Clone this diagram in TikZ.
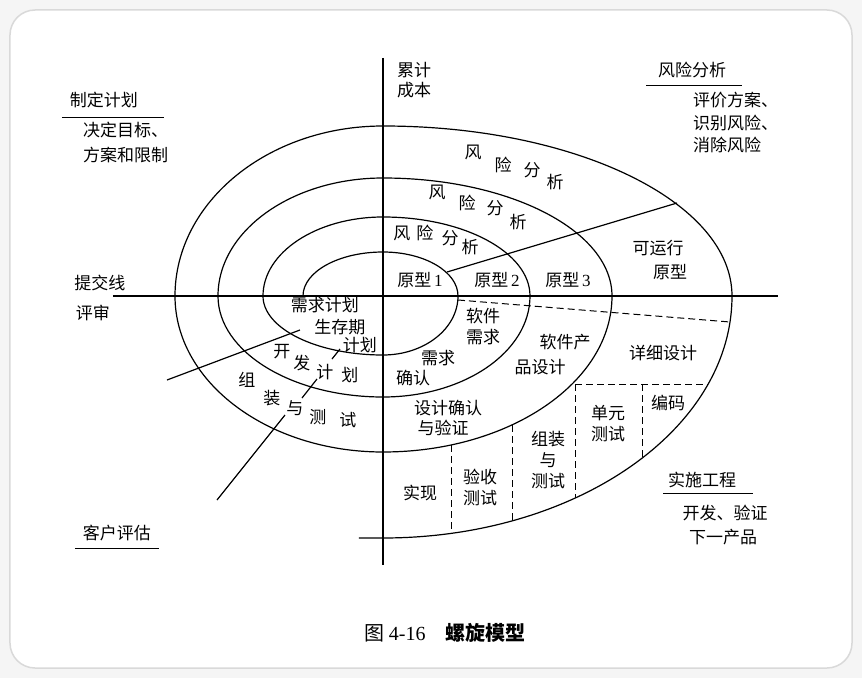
\documentclass[tikz,border=0pt]{standalone}
\usepackage{fontspec}
\setmainfont{Noto Sans CJK SC}
\newfontfamily\numfont{Liberation Serif}
\tikzset{
  lbl/.style={font=\fontsize{17}{21}\selectfont, inner sep=0pt, align=center},
  spiral/.style={line width=1.2pt},
  seg/.style={line width=1pt, dash pattern=on 7pt off 4pt}
}
\begin{document}
\begin{tikzpicture}[x=1pt,y=1pt]
    \useasboundingbox (-383,-382) rectangle (479,296);
    \fill[gray!8] (-383,-382) rectangle (479,296);
    \filldraw[fill=white,draw=gray!30,line width=1.5pt,rounded corners=25pt] (-373,-372) rectangle (469,286);
    \draw[spiral] (0,238) -- (0,-269);
    \draw[spiral] (-270,0) -- (395,0);
    \draw[spiral] (-80,0) arc[start angle=180,end angle=90,x radius=80,y radius=44]
        arc[start angle=90,end angle=0,x radius=75,y radius=44]
        arc[start angle=0,end angle=-90,x radius=75,y radius=59]
        arc[start angle=270,end angle=180,x radius=120,y radius=59]
        arc[start angle=180,end angle=90,x radius=120,y radius=79]
        arc[start angle=90,end angle=0,x radius=147,y radius=79]
        arc[start angle=0,end angle=-90,x radius=147,y radius=101]
        arc[start angle=270,end angle=180,x radius=165,y radius=101]
        arc[start angle=180,end angle=90,x radius=165,y radius=118]
        arc[start angle=90,end angle=0,x radius=229,y radius=118]
        arc[start angle=0,end angle=-90,x radius=229,y radius=156]
        arc[start angle=270,end angle=180,x radius=208,y radius=156]
        arc[start angle=180,end angle=90,x radius=208,y radius=170]
        arc[start angle=90,end angle=0,x radius=349,y radius=170]
        arc[start angle=0,end angle=-90,x radius=349,y radius=242]
        -- (-24,-242);
    \draw[spiral] (64,24) -- (294,93);
    \draw[seg] (75,-4) -- (347,-26);
    \draw[spiral] (-216,-84) -- (-83,-34);
    \draw[spiral] (-51,-63) -- (-43,-53);
    \draw[spiral] (-166,-204) -- (-98,-119);
    \draw[spiral] (-81,-102) -- (-66,-83);
    \draw[seg] (68,-149) -- (68,-237);
    \draw[seg] (129,-129) -- (129,-225);
    \draw[seg] (192,-88) -- (192,-202);
    \draw[seg] (259,-88) -- (259,-162);
    \draw[seg] (192,-88) -- (325,-88);
    \node[lbl] (plan) at (-279,196) {制定计划};
    \draw[line width=1pt] (-321,179) -- (-219,179);
    \node[lbl,anchor=west] (goal) at (-300,166) {决定目标、};
    \node[lbl,anchor=west] (limit) at (-300,141) {方案和限制};
    \node[lbl,anchor=west] (cost) at (14,226) {累计};
    \node[lbl,anchor=west] (cost2) at (14,206) {成本};
    \node[lbl] (commit) at (-283,13) {提交线};
    \node[lbl] (review) at (-290,-17) {评审};
    \node[lbl] (risk) at (309,226) {风险分析};
    \draw[line width=1pt] (263,211) -- (359,211);
    \node[lbl,anchor=west] (eval) at (310,196) {评价方案、};
    \node[lbl,anchor=west] (ident) at (310,173) {识别风险、};
    \node[lbl,anchor=west] (elim) at (310,151) {消除风险};
    \node[lbl] (client) at (-266,-237) {客户评估};
    \draw[line width=1pt] (-308,-252) -- (-224,-252);
    \node[lbl] (eng) at (319,-184) {实施工程};
    \draw[line width=1pt] (280,-197) -- (370,-197);
    \node[lbl] (dev) at (342,-217) {开发、验证};
    \node[lbl] (next) at (340,-241) {下一产品};
    \node[lbl] (ra1) at (90,144) {风};
    \node[lbl] (ra2) at (120,131) {险};
    \node[lbl] (ra3) at (149,126) {分};
    \node[lbl] (ra4) at (172,114) {析};
    \node[lbl] (rb1) at (54,104) {风};
    \node[lbl] (rb2) at (84,93) {险};
    \node[lbl] (rb3) at (112,88) {分};
    \node[lbl] (rb4) at (135,74) {析};
    \node[lbl] (rc1) at (19,63) {风};
    \node[lbl] (rc2) at (42,63) {险};
    \node[lbl] (rc3) at (67,58) {分};
    \node[lbl] (rc4) at (87,49) {析};
    \node[lbl] (proto1) at (37,16) {原型\,{\numfont 1}};
    \node[lbl] (proto2) at (114,16) {原型\,{\numfont 2}};
    \node[lbl] (proto3) at (185,16) {原型\,{\numfont 3}};
    \node[lbl] (run1) at (275,48) {可运行};
    \node[lbl] (run2) at (287,24) {原型};
    \node[lbl] (req) at (-58,-9) {需求计划};
    \node[lbl] (life) at (-43,-31) {生存期};
    \node[lbl] (life2) at (-23,-49) {计划};
    \node[lbl] (dp1) at (-101,-56) {开};
    \node[lbl] (dp2) at (-81,-67) {发};
    \node[lbl] (dp3) at (-58,-76) {计};
    \node[lbl] (dp4) at (-33,-79) {划};
    \node[lbl] (it1) at (-136,-84) {组};
    \node[lbl] (it2) at (-111,-102) {装};
    \node[lbl] (it3) at (-88,-112) {与};
    \node[lbl] (it4) at (-65,-121) {测};
    \node[lbl] (it5) at (-35,-124) {试};
    \node[lbl] (swreq) at (100,-31) {软件\\需求};
    \node[lbl] (reqok) at (55,-62) {需求};
    \node[lbl] (reqok2) at (30,-82) {确认};
    \node[lbl] (prod) at (182,-46) {软件产};
    \node[lbl] (prod2) at (157,-71) {品设计};
    \node[lbl] (detail) at (280,-57) {详细设计};
    \node[lbl] (verify) at (65,-112) {设计确认};
    \node[lbl] (verify2) at (60,-132) {与验证};
    \node[lbl] (impl) at (37,-197) {实现};
    \node[lbl] (accept) at (97,-191) {验收\\测试};
    \node[lbl] (integ) at (165,-164) {组装\\与\\测试};
    \node[lbl] (unit) at (225,-128) {单元\\测试};
    \node[lbl] (code) at (285,-107) {编码};
    \node[font=\fontsize{20}{24}\selectfont] (caption) at (62,-337) {图 {\numfont 4-16}\quad\textbf{螺旋模型}};
\end{tikzpicture}
\end{document}
